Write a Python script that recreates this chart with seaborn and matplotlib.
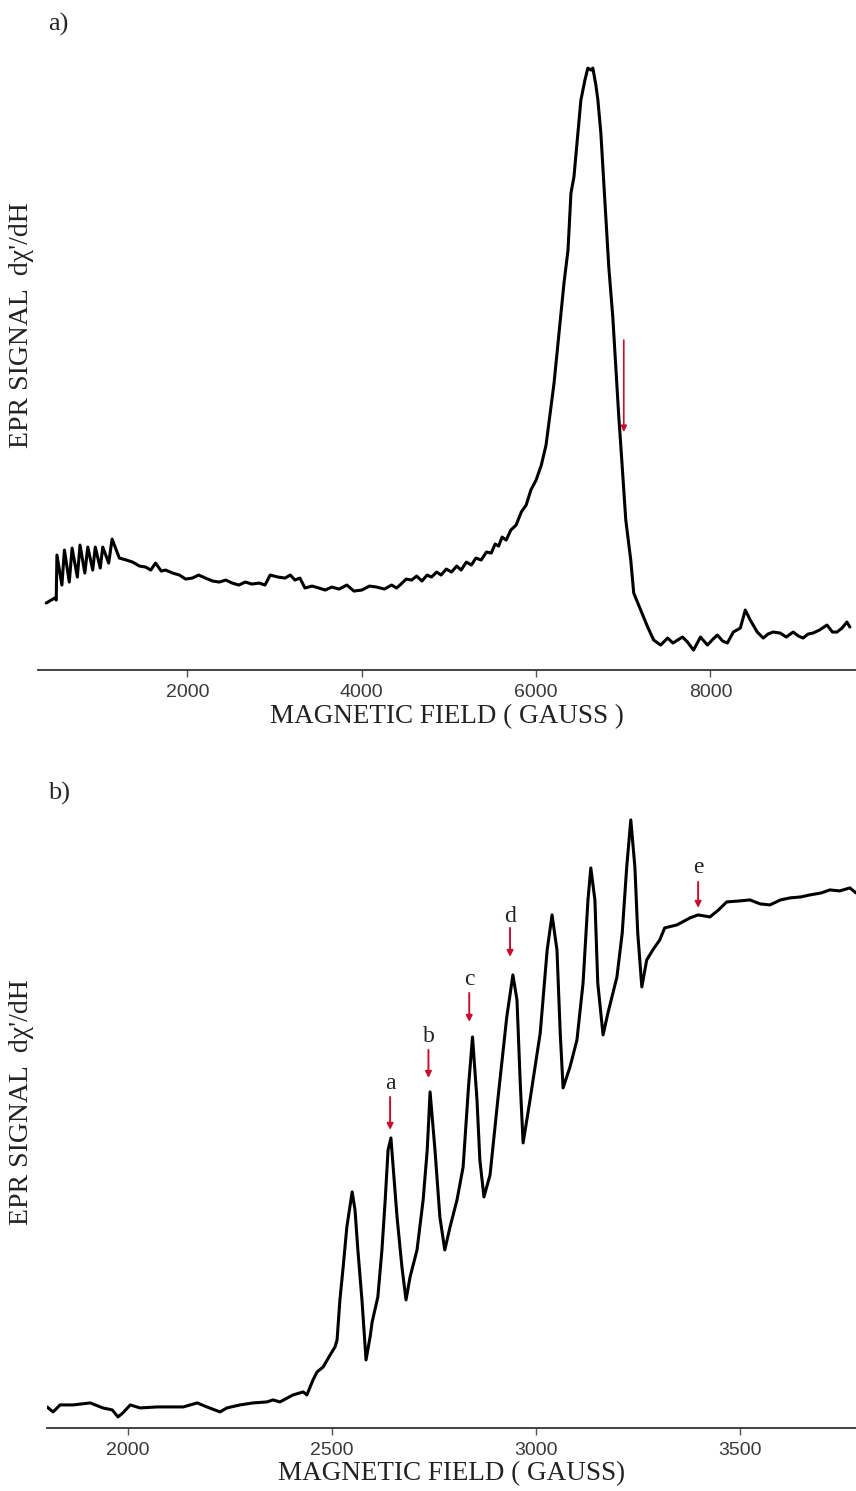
import matplotlib
matplotlib.use("Agg")
import matplotlib.pyplot as plt
import seaborn as sns

# ---------------- data ----------------
field_a = [380, 476, 495, 503, 560, 589, 645, 677, 737, 768,
           823, 857, 914, 943, 1000, 1029, 1097, 1136, 1219, 1300,
           1371, 1450, 1520, 1580, 1634, 1700, 1749, 1830, 1909, 1980,
           2057, 2130, 2206, 2290, 2366, 2440, 2514, 2590, 2663, 2740,
           2823, 2890, 2949, 3040, 3120, 3180, 3234, 3290, 3349, 3430,
           3509, 3580, 3657, 3740, 3829, 3910, 4000, 4090, 4171, 4260,
           4343, 4400, 4450, 4510, 4572, 4630, 4690, 4750, 4800, 4860,
           4910, 4970, 5029, 5090, 5140, 5200, 5257, 5310, 5370, 5430,
           5486, 5530, 5570, 5610, 5657, 5710, 5771, 5830, 5886, 5940,
           6000, 6060, 6114, 6171, 6206, 6263, 6320, 6366, 6400, 6434,
           6480, 6514, 6560, 6594, 6629, 6651, 6686, 6709, 6743, 6777,
           6800, 6834, 6880, 6914, 6949, 6983, 7029, 7086, 7120, 7200,
           7280, 7349, 7429, 7509, 7570, 7623, 7680, 7737, 7806, 7886,
           7966, 8030, 8080, 8140, 8194, 8263, 8343, 8400, 8457, 8537,
           8606, 8660, 8720, 8800, 8870, 8949, 9010, 9063, 9120, 9177,
           9250, 9337, 9400, 9451, 9510, 9566, 9600]
signal_a = [67, 72, 70, 115, 85, 120, 88, 122, 93, 125,
            97, 123, 100, 123, 102, 123, 107, 131, 112, 110,
            108, 104, 103, 100, 107, 99, 100, 97, 95, 91,
            92, 95, 92, 89, 88, 90, 87, 85, 88, 86,
            87, 85, 95, 93, 92, 95, 90, 92, 82, 84,
            82, 80, 83, 81, 85, 79, 80, 84, 83, 81,
            85, 82, 86, 91, 90, 94, 89, 95, 93, 98,
            95, 101, 98, 104, 100, 108, 105, 112, 110, 118,
            117, 126, 124, 133, 130, 140, 145, 158, 165, 180,
            190, 205, 225, 263, 287, 337, 387, 420, 477, 493,
            537, 570, 590, 602, 600, 602, 585, 570, 537, 487,
            453, 403, 353, 303, 253, 210, 150, 110, 77, 60,
            43, 30, 25, 32, 27, 30, 33, 28, 20, 33,
            25, 31, 35, 29, 27, 38, 42, 60, 50, 38,
            32, 36, 38, 37, 33, 38, 34, 32, 36, 37,
            40, 45, 38, 38, 42, 48, 43]

field_b = [1802, 1817, 1834, 1866, 1908, 1939, 1962, 1976, 1988, 2006,
           2030, 2072, 2111, 2136, 2170, 2194, 2226, 2243, 2275, 2307,
           2341, 2356, 2373, 2405, 2430, 2439, 2454, 2464, 2479, 2496,
           2508, 2513, 2520, 2528, 2537, 2550, 2557, 2564, 2574, 2584,
           2594, 2599, 2613, 2623, 2631, 2638, 2645, 2660, 2672, 2682,
           2692, 2709, 2724, 2734, 2741, 2753, 2765, 2777, 2790, 2807,
           2822, 2835, 2845, 2856, 2863, 2873, 2888, 2907, 2929, 2944,
           2954, 2962, 2969, 2986, 3011, 3028, 3040, 3052, 3060, 3067,
           3084, 3101, 3116, 3128, 3135, 3145, 3152, 3165, 3177, 3199,
           3212, 3223, 3233, 3243, 3250, 3260, 3272, 3287, 3304, 3316,
           3346, 3378, 3398, 3427, 3448, 3468, 3500, 3525, 3550, 3574,
           3600, 3623, 3650, 3672, 3700, 3721, 3745, 3770, 3785]
signal_b = [21, 16, 23, 23, 25, 20, 18, 11, 15, 23,
            20, 21, 21, 21, 25, 21, 16, 20, 23, 25,
            26, 28, 26, 33, 36, 33, 48, 56, 61, 73,
            81, 88, 128, 161, 201, 236, 218, 178, 128, 68,
            91, 106, 131, 178, 228, 278, 290, 211, 161, 128,
            151, 178, 228, 278, 336, 278, 211, 178, 201, 228,
            261, 340, 391, 328, 268, 231, 253, 328, 411, 453,
            428, 345, 285, 328, 395, 478, 513, 478, 395, 340,
            361, 388, 445, 528, 560, 528, 445, 393, 415, 451,
            495, 561, 608, 561, 495, 441, 468, 478, 488, 500,
            503, 510, 513, 511, 518, 526, 527, 528, 524, 523,
            528, 530, 531, 533, 535, 538, 537, 540, 535]

ticks_a = [2000, 4000, 6000, 8000]
ticks_b = [2000, 2500, 3000, 3500]

# arrow markers: (field, tail, tip) and labels for panel b
arrow_a = (7006, 330, 238)
marker_labels_b = ["a", "b", "c", "d", "e"]
marker_field_b = [2643, 2737, 2837, 2937, 3398]
marker_tail_b = [331, 378, 435, 500, 546]
marker_tip_b = [298, 350, 406, 471, 520]
marker_text_b = [344, 391, 448, 511, 560]

xlabel_a = "MAGNETIC FIELD ( GAUSS )"
xlabel_b = "MAGNETIC FIELD ( GAUSS)"
ylabel = "EPR SIGNAL  dχ'/dH"

# ---------------- styling ----------------
sns.set_theme(style="white")
plt.rcParams["font.family"] = ["Liberation Serif", "DejaVu Serif"]
RED = "#c8102e"

fig = plt.figure(figsize=(8.56, 14.91), dpi=100)
axA = fig.add_axes([0.0444, 0.5506, 0.9556, 0.4091])
axB = fig.add_axes([0.0549, 0.0423, 0.9451, 0.4212])

sns.lineplot(x=field_a, y=signal_a, ax=axA, color="black", lw=2.2, estimator=None)
sns.lineplot(x=field_b, y=signal_b, ax=axB, color="black", lw=2.2, estimator=None)

axA.set_xlim(286, 9670)
axA.set_ylim(0, 610)
axB.set_xlim(1802, 3785)
axB.set_ylim(0, 628)

for ax, ticks, xl, ylc in [(axA, ticks_a, xlabel_a, (-0.005, 0.566)),
                           (axB, ticks_b, xlabel_b, (-0.016, 0.519))]:
    sns.despine(ax=ax, left=True, top=True, right=True)
    ax.spines["bottom"].set_color("#333333")
    ax.spines["bottom"].set_linewidth(1.3)
    ax.set_yticks([])
    ax.set_xticks(ticks)
    ax.tick_params(axis="x", direction="out", length=5, width=1, color="#555555",
                   labelsize=14, labelcolor="#3a3a3a", pad=5, bottom=True)
    for lbl in ax.get_xticklabels():
        lbl.set_fontfamily("Liberation Sans")
    ax.set_xlabel(xl, fontsize=19.5, labelpad=2, color="#222222")
    ax.set_ylabel(ylabel, fontsize=20, color="#222222")
    ax.yaxis.set_label_coords(*ylc)

# panel a arrow
axA.annotate("", xy=(arrow_a[0], arrow_a[2]), xytext=(arrow_a[0], arrow_a[1]),
             arrowprops=dict(arrowstyle="-|>", color=RED, lw=1.2, mutation_scale=9,
                             shrinkA=0, shrinkB=0))

# panel b arrows + labels
for lab, fx, tail, tip, ty in zip(marker_labels_b, marker_field_b, marker_tail_b,
                                  marker_tip_b, marker_text_b):
    axB.annotate("", xy=(fx, tip), xytext=(fx, tail),
                 arrowprops=dict(arrowstyle="-|>", color=RED, lw=1.4, mutation_scale=9,
                                 shrinkA=0, shrinkB=0))
    axB.text(fx, ty, lab, ha="center", va="center", fontsize=17, color="#222222")

fig.text(48 / 856, 1 - 24 / 1491, "a)", ha="left", va="center", fontsize=19)
fig.text(48 / 856, 1 - 793 / 1491, "b)", ha="left", va="center", fontsize=19)

fig.savefig("out.png", dpi=100)
